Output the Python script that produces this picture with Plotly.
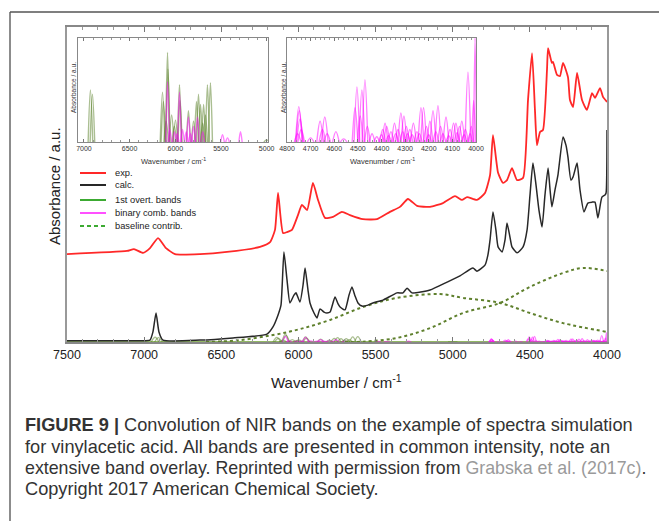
import plotly.graph_objects as go

W, H = 659, 521

# ---------------- data ----------------
exp_wn = [7500, 7111, 7066, 7007, 6962, 6910, 6858, 6800, 6638, 6463,
          6249, 6184, 6152, 6132, 6100, 6074, 6042, 6003, 5977, 5944,
          5906, 5873, 5828, 5776, 5718, 5666, 5582, 5491, 5407, 5342,
          5290, 5231, 5147, 5063, 4985, 4940, 4907, 4843, 4791, 4758,
          4739, 4706, 4674, 4648, 4616, 4583, 4544, 4512, 4486, 4467,
          4454, 4434, 4415, 4389, 4382, 4357, 4350, 4324, 4305, 4285,
          4253, 4240, 4220, 4194, 4162, 4130, 4097, 4078, 4045, 4026, 4000]
exp_abs = [27.9, 28.9, 29.5, 28.3, 29.8, 33.0, 29.8, 27.9, 27.9, 28.6,
           30.2, 31.7, 35.6, 47.3, 34.6, 34.9, 35.6, 40.3, 43.5, 41.9,
           50.5, 45.1, 39.4, 39.7, 41.3, 40.3, 39.0, 39.0, 41.3, 42.9,
           45.4, 43.2, 42.9, 44.1, 46.3, 45.1, 46.0, 45.1, 47.3, 53.0,
           65.7, 53.7, 50.5, 51.4, 55.2, 51.4, 52.1, 76.8, 91.7, 73.7,
           62.5, 66.7, 67.3, 86.3, 93.3, 88.6, 88.9, 84.8, 84.4, 88.6,
           84.1, 76.8, 74.6, 85.4, 76.8, 73.7, 79.0, 77.5, 80.6, 77.8, 76.2]

calc_wn = [7500, 7027, 6962, 6943, 6923, 6904, 6878, 6638, 6424, 6204,
           6165, 6132, 6113, 6094, 6074, 6055, 6029, 6016, 5990, 5970,
           5957, 5938, 5925, 5899, 5880, 5860, 5834, 5815, 5795, 5763,
           5743, 5730, 5698, 5672, 5653, 5633, 5614, 5588, 5549, 5517,
           5452, 5361, 5322, 5296, 5264, 5147, 5037, 4953, 4869, 4843,
           4791, 4772, 4758, 4739, 4720, 4706, 4680, 4661, 4648, 4629,
           4616, 4583, 4544, 4518, 4499, 4480, 4460, 4441, 4421, 4402,
           4382, 4369, 4357, 4337, 4318, 4285, 4266, 4253, 4234, 4220,
           4194, 4175, 4149, 4124, 4097, 4078, 4059, 4033, 4013, 4006, 4000]
calc_abs = [0.4, 0.4, 0.6, 3.2, 9.2, 3.2, 0.6, 0.6, 1.3, 2.5,
            4.8, 8.6, 11.7, 28.6, 19.7, 12.4, 14.9, 15.6, 12.7, 18.1,
            23.5, 16.5, 12.4, 9.2, 7.6, 10.5, 9.5, 9.2, 9.5, 14.3,
            12.1, 11.1, 10.2, 14.9, 17.5, 14.6, 12.4, 11.4, 11.7, 12.4,
            13.3, 15.6, 15.6, 17.1, 15.6, 16.5, 19.0, 21.0, 23.5, 22.5,
            24.4, 27.6, 32.4, 41.3, 35.6, 30.2, 28.6, 32.4, 37.8, 33.3,
            30.2, 28.3, 30.2, 35.6, 46.7, 56.8, 49.8, 41.9, 36.5, 46.7,
            55.2, 48.3, 42.9, 48.3, 53.0, 65.1, 62.5, 58.7, 51.4, 52.4,
            56.8, 48.3, 41.3, 44.1, 44.4, 44.4, 39.4, 46.0, 46.7, 47.3, 67.3]

baseA_wn = [6600, 6400, 6165, 5990, 5795, 5582, 5361, 5082, 4933, 4694, 4499, 4285, 4000]
baseA_abs = [0.0, 0.5, 2.2, 4.1, 7.0, 11.1, 14.0, 15.2, 14.0, 12.4, 9.2, 6.0, 3.2]
baseB_wn = [5700, 5582, 5361, 5147, 4933, 4694, 4499, 4285, 4155, 4000]
baseB_abs = [0.0, 0.1, 1.3, 4.4, 9.2, 12.4, 17.5, 21.9, 23.5, 22.5]

# first overtone bands: centre (cm-1), relative height, half width
ov_center = [6929, 6907, 6140, 6130, 6100, 6085, 6080, 6040, 6010, 5998,
             5954, 5948, 5856, 5800, 5768, 5746, 5724, 5700, 5690, 5670,
             5648, 5615, 5000]
ov_height = [0.50, 0.46, 0.48, 0.39, 0.20, 0.86, 0.70, 0.26, 0.15, 0.21,
             0.55, 0.40, 0.30, 0.20, 0.39, 0.46, 0.36, 0.18, 0.36, 0.26,
             0.55, 0.57, 0.02]
ov_width = [25, 25, 25, 25, 25, 22, 22, 25, 25, 25,
            22, 22, 22, 22, 22, 22, 22, 22, 22, 22,
            22, 22, 30]

# binary combination bands
cb_center = [6085, 6060, 6009, 5980, 5954, 5921, 5880, 5856, 5834, 5800,
             5757, 5700, 5483, 5428, 5286,
             4755, 4750, 4748, 4745, 4740, 4700, 4660, 4650, 4640, 4630,
             4593, 4560, 4512, 4504, 4490, 4483, 4470, 4460, 4440, 4420,
             4400, 4395, 4385, 4378, 4370, 4360, 4345, 4340, 4330, 4318,
             4310, 4305, 4295, 4290, 4280, 4270, 4265, 4250, 4240, 4233,
             4222, 4210, 4200, 4195, 4182, 4170, 4161, 4150, 4140, 4127,
             4115, 4110, 4095, 4085, 4080, 4070, 4060, 4050, 4045, 4034,
             4025, 4020, 4010, 4004]
cb_height = [0.58, 0.12, 0.10, 0.08, 0.48, 0.12, 0.10, 0.24, 0.08, 0.15,
             0.24, 0.10, 0.07, 0.04, 0.10,
             0.08, 0.34, 0.30, 0.22, 0.12, 0.04, 0.20, 0.12, 0.24, 0.08,
             0.10, 0.03, 0.33, 0.53, 0.25, 0.50, 0.60, 0.15, 0.08, 0.05,
             0.07, 0.12, 0.18, 0.15, 0.06, 0.10, 0.18, 0.08, 0.12, 0.28,
             0.10, 0.25, 0.15, 0.08, 0.12, 0.07, 0.18, 0.10, 0.08, 0.33,
             0.33, 0.15, 0.07, 0.20, 0.30, 0.10, 0.35, 0.15, 0.08, 0.24,
             0.06, 0.12, 0.18, 0.18, 0.09, 0.15, 0.20, 0.07, 0.12, 0.67,
             0.08, 0.15, 0.40, 1.00]
cb_width = [20, 20, 20, 20, 20, 20, 20, 20, 20, 20,
            20, 20, 20, 20, 18] + [14] * 12 + [12] * 47 + [12, 10, 10, 8, 6]

inset1_ticks = [7000, 6500, 6000, 5500, 5000]
inset2_ticks = [4800, 4700, 4600, 4500, 4400, 4300, 4200, 4100, 4000]
main_ticks = [7500, 7000, 6500, 6000, 5500, 5000, 4500, 4000]

MAIN_BAND_SCALE = 3.0

# ---------------- helpers ----------------
def px(x):
    return x / W


def py(y):
    return 1 - y / H


RED = "rgb(255,40,40)"
BLACK = "rgb(40,40,40)"
OLIVE = "rgb(95,128,45)"
GREEN_BAND = "rgba(85,125,35,0.5)"
MAG_BAND = "rgba(255,0,255,0.5)"
FONT = "Liberation Sans, Arial, sans-serif"

fig = go.Figure()


def add_band(c, h, w, color, xa, ya, scale=1.0, lw=1.4):
    fig.add_trace(go.Scatter(
        x=[c - w, c, c + w], y=[0, h * scale, 0],
        mode="lines", line=dict(color=color, width=lw, shape="spline"),
        xaxis=xa, yaxis=ya, showlegend=False, hoverinfo="skip"))


# ---- main plot ----
fig.add_trace(go.Scatter(x=[7500, 4000], y=[0, 0], mode="lines",
                         line=dict(color="rgb(110,160,50)", width=1.5),
                         xaxis="x", yaxis="y", showlegend=False))
for c, h, w in zip(ov_center, ov_height, ov_width):
    add_band(c, h, w, GREEN_BAND, "x", "y", MAIN_BAND_SCALE, 1.3)
for c, h, w in zip(cb_center, cb_height, cb_width):
    add_band(c, h, w, MAG_BAND, "x", "y", MAIN_BAND_SCALE, 1.3)

fig.add_trace(go.Scatter(x=baseA_wn, y=baseA_abs, mode="lines",
                         line=dict(color=OLIVE, width=2, dash="3px,3px", shape="spline"),
                         xaxis="x", yaxis="y", showlegend=False))
fig.add_trace(go.Scatter(x=baseB_wn, y=baseB_abs, mode="lines",
                         line=dict(color=OLIVE, width=2, dash="3px,3px", shape="spline"),
                         xaxis="x", yaxis="y", showlegend=False))
fig.add_trace(go.Scatter(x=calc_wn, y=calc_abs, mode="lines",
                         line=dict(color=BLACK, width=1.5, shape="spline", smoothing=0.5),
                         xaxis="x", yaxis="y", showlegend=False))
fig.add_trace(go.Scatter(x=exp_wn, y=exp_abs, mode="lines",
                         line=dict(color=RED, width=1.8, shape="spline", smoothing=0.5),
                         xaxis="x", yaxis="y", showlegend=False))

# ---- inset 1 (7000-5000) ----
for c, h, w in zip(ov_center, ov_height, ov_width):
    if c > 4990:
        add_band(c, h, w, GREEN_BAND, "x2", "y2")
for c, h, w in zip(cb_center, cb_height, cb_width):
    if c > 4990:
        add_band(c, h, w, MAG_BAND, "x2", "y2")

# ---- inset 2 (4800-4000) ----
for c, h, w in zip(cb_center, cb_height, cb_width):
    if c <= 4800:
        add_band(c, h, w, MAG_BAND, "x3", "y3")

axis_common = dict(showgrid=False, zeroline=False, showline=True, automargin=False)

fig.update_layout(
    template="none",
    width=W, height=H, autosize=False,
    margin=dict(l=0, r=0, t=0, b=0, pad=0),
    paper_bgcolor="white", plot_bgcolor="rgba(0,0,0,0)",
    showlegend=False,
    font=dict(family=FONT, color="#222"),
    xaxis=dict(**axis_common, domain=[px(67), px(607)], range=[7500, 4000],
               tickmode="array", tickvals=main_ticks, ticks="inside", ticklen=5,
               tickcolor="#777", mirror="allticks", linecolor="#888", linewidth=1.5,
               tickfont=dict(size=12.5, color="#222"),
               minor=dict(dtick=100, ticks="inside", ticklen=3, tickcolor="#999"),
               anchor="y"),
    yaxis=dict(**axis_common, domain=[py(342), py(27)], range=[0, 100],
               showticklabels=False, ticks="", mirror=True,
               linecolor="#999", linewidth=1.5, anchor="x"),
    xaxis2=dict(**axis_common, domain=[px(78), px(268)], range=[7065, 4985],
                tickmode="array", tickvals=inset1_ticks, ticks="inside", ticklen=3,
                tickcolor="#777", mirror="allticks", linecolor="#888", linewidth=1,
                tickfont=dict(size=7, color="#333"),
                minor=dict(dtick=100, ticks="inside", ticklen=2, tickcolor="#999"),
                anchor="y2"),
    yaxis2=dict(**axis_common, domain=[py(142), py(38)], range=[0, 1.0],
                showticklabels=False, ticks="", mirror=True,
                linecolor="#888", linewidth=1, anchor="x2"),
    xaxis3=dict(**axis_common, domain=[px(287), px(476)], range=[4800, 4000],
                tickmode="array", tickvals=inset2_ticks, ticks="inside", ticklen=3,
                tickcolor="#777", mirror="allticks", linecolor="#888", linewidth=1,
                tickfont=dict(size=7, color="#333"),
                minor=dict(dtick=20, ticks="inside", ticklen=2, tickcolor="#999"),
                anchor="y3"),
    yaxis3=dict(**axis_common, domain=[py(142), py(38)], range=[0, 1.0],
                showticklabels=False, ticks="", mirror=True,
                linecolor="#888", linewidth=1, anchor="x3"),
)

shapes = []
annotations = []

# outer frame
shapes.append(dict(type="line", xref="paper", yref="paper", x0=px(10), x1=px(10),
                   y0=py(12), y1=0, line=dict(color="#666", width=1.5)))
shapes.append(dict(type="line", xref="paper", yref="paper", x0=px(10), x1=1,
                   y0=py(12), y1=py(12), line=dict(color="#555", width=1.5)))

# legend
legend_rows = [("exp.", RED, "solid", 173), ("calc.", BLACK, "solid", 185),
               ("1st overt. bands", "rgb(60,170,50)", "solid", 200),
               ("binary comb. bands", "rgb(255,80,255)", "solid", 213),
               ("baseline contrib.", "rgb(60,170,50)", "dash", 226)]
for label, col, dash, yy in legend_rows:
    shapes.append(dict(type="line", xref="paper", yref="paper", x0=px(80), x1=px(106),
                       y0=py(yy), y1=py(yy),
                       line=dict(color=col, width=2, dash="4px,3px" if dash == "dash" else "solid")))
    annotations.append(dict(text=label, xref="paper", yref="paper", x=px(113), y=py(yy),
                            xanchor="left", yanchor="middle", showarrow=False,
                            font=dict(size=9.3, color="#222", family=FONT)))

# axis titles
annotations.append(dict(text="Wavenumber / cm<sup>-1</sup>", xref="paper", yref="paper",
                        x=px(336), y=py(381), xanchor="center", yanchor="middle",
                        showarrow=False, font=dict(size=15, color="#222", family=FONT)))
annotations.append(dict(text="Absorbance / a.u.", xref="paper", yref="paper",
                        x=px(55), y=py(186), xanchor="center", yanchor="middle",
                        textangle=-90, showarrow=False,
                        font=dict(size=15, color="#222", family=FONT)))
for cx in (173, 382):
    annotations.append(dict(text="Wavenumber / cm<sup>-1</sup>", xref="paper", yref="paper",
                            x=px(cx), y=py(161), xanchor="center", yanchor="middle",
                            showarrow=False, font=dict(size=7.5, color="#333", family=FONT)))
for cx in (73, 283):
    annotations.append(dict(text="Absorbance / a.u.", xref="paper", yref="paper",
                            x=px(cx), y=py(88), xanchor="center", yanchor="middle",
                            textangle=-90, showarrow=False,
                            font=dict(size=6.5, color="#333", family=FONT)))

# caption
caption = [
    ("<b>FIGURE 9 |</b> Convolution of NIR bands on the example of spectra simulation", 425, 18.2),
    ("for vinylacetic acid. All bands are presented in common intensity, note an", 447, 18.2),
    ("extensive band overlay. Reprinted with permission from "
     "<span style='color:#9a9a9a'>Grabska et al. (2017c)</span>.", 468, 17.8),
    ("Copyright 2017 American Chemical Society.", 489, 18.2),
]
for txt, yy, fs in caption:
    annotations.append(dict(text=txt, xref="paper", yref="paper", x=px(23), y=py(yy),
                            xanchor="left", yanchor="middle", showarrow=False,
                            font=dict(size=fs, color="#333", family=FONT)))

fig.update_layout(shapes=shapes, annotations=annotations)

fig.write_html("out.html", config={"displayModeBar": False},
               post_script="document.body.style.margin='0';")
